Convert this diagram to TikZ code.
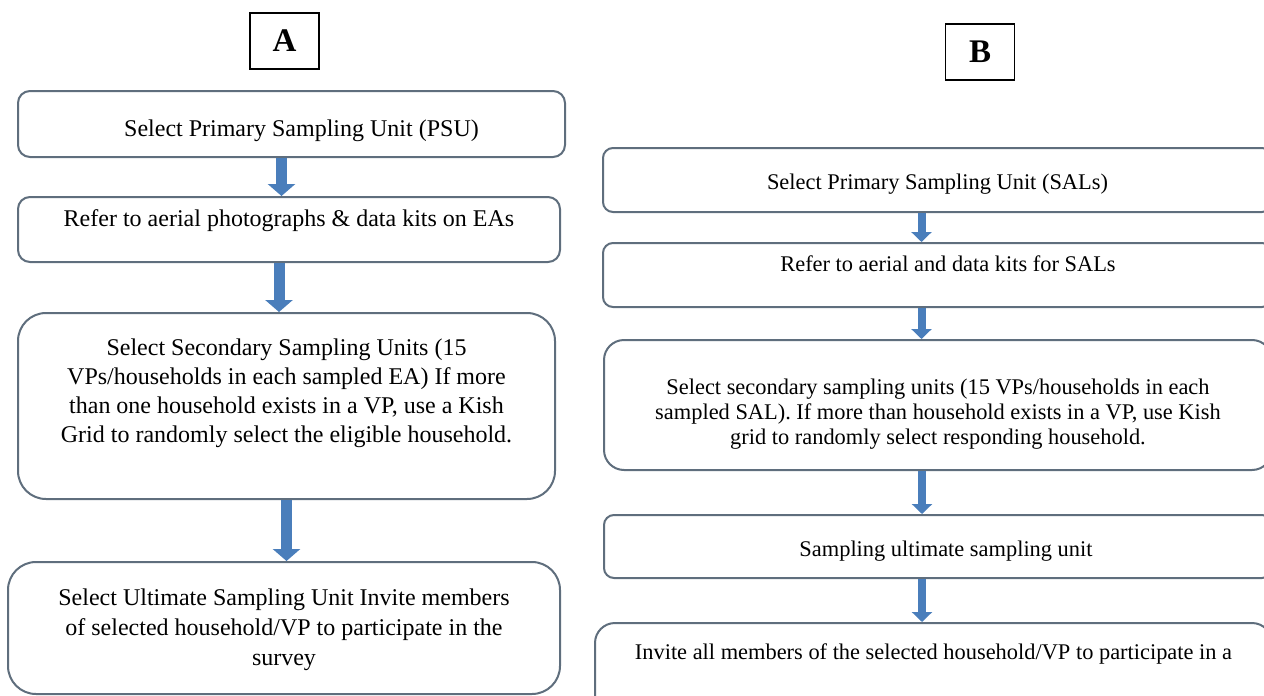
\documentclass[tikz,border=0pt]{standalone}
\usepackage{fontspec}
\setmainfont{Liberation Serif}
\usetikzlibrary{arrows.meta}
\definecolor{boxedge}{RGB}{95,110,125}
\definecolor{flowblue}{RGB}{74,126,187}
\begin{document}
\begin{tikzpicture}[x=0.5pt,y=-0.5pt,
  letterbox/.style={draw=black,line width=0.7pt,inner sep=0pt,minimum width=34.5pt,minimum height=28pt,font=\fontsize{16.5}{18}\selectfont\bfseries},
  abox/.style={draw=boxedge,line width=1pt,fill=white,inner sep=0pt,align=center,rounded corners=6pt,font=\fontsize{12}{14.5}\selectfont},
  bbox/.style={abox,rounded corners=5pt,font=\fontsize{11.2}{12.5}\selectfont},
  aarrow/.style={draw=flowblue,line width=5.5pt,-{Triangle[width=13.5pt,length=6pt]}},
  barrow/.style={draw=flowblue,line width=4pt,-{Triangle[width=10pt,length=5pt]}}]
\useasboundingbox (0,0) rectangle (1264,696);
\clip (0,0) rectangle (1264,696);
% column A
\node [letterbox] (labA) at (284.5,41) {A};
\node [abox,minimum width=273.5pt,minimum height=33pt] (a1) at (291.5,124) {\hspace*{10pt}\rule{0pt}{15pt}Select Primary Sampling Unit (PSU)};
\node [abox,minimum width=271pt,minimum height=32.5pt,text depth=11pt] (a2) at (289,229.5) {Refer to aerial photographs \& data kits on EAs};
\node [abox,rounded corners=14pt,minimum width=268.5pt,minimum height=93pt,text depth=15.6pt] (a3) at (286.5,406) {Select Secondary Sampling Units (15\\VPs/households in each sampled EA) If more\\than one household exists in a VP, use a Kish\\Grid to randomly select the eligible household.};
\node [abox,rounded corners=14pt,minimum width=276pt,minimum height=66pt,font=\fontsize{12}{15}\selectfont] (a4) at (284,628) {\rule{0pt}{10.5pt}Select Ultimate Sampling Unit Invite members\\of selected household/VP to participate in the\\survey};
% column B
\node [letterbox] (labB) at (980,52) {B};
\node [bbox,minimum width=334.5pt,minimum height=32pt] (b1) at (937.5,180) {\rule{0pt}{12pt}Select Primary Sampling Unit (SALs)};
\node [bbox,minimum width=334.5pt,minimum height=32pt,text depth=11.5pt] (b2) at (937.5,275) {\hspace*{10.5pt}Refer to aerial and data kits for SALs};
\node [bbox,rounded corners=10pt,minimum width=334pt,minimum height=65pt] (b3) at (938,405) {\rule{0pt}{16.5pt}Select secondary sampling units (15 VPs/households in each\\sampled SAL). If more than household exists in a VP, use Kish\\grid to randomly select responding household.};
\node [bbox,minimum width=334pt,minimum height=31.5pt] (b4) at (938,546.5) {\hspace*{8pt}\rule{0pt}{12pt}Sampling ultimate sampling unit};
\node [bbox,rounded corners=10pt,minimum width=338.5pt,minimum height=48.5pt,text depth=20pt] (b5) at (933.5,671.5) {Invite all members of the selected household/VP to participate in a};
% arrows
\draw [aarrow] ([xshift=-5pt]a1.south) -- ([xshift=-5pt]a1.south |- a2.north);
\draw [aarrow] ([xshift=-5pt]a2.south) -- ([xshift=-5pt]a2.south |- a3.north);
\draw [aarrow] (a3.south) -- (a3.south |- a4.north);
\draw [barrow] ([xshift=-8pt]b1.south) -- ([xshift=-8pt]b1.south |- b2.north);
\draw [barrow] ([xshift=-8pt]b2.south) -- ([xshift=-8pt]b2.south |- b3.north);
\draw [barrow] ([xshift=-8pt]b3.south) -- ([xshift=-8pt]b3.south |- b4.north);
\draw [barrow] ([xshift=-8pt]b4.south) -- ([xshift=-8pt]b4.south |- b5.north);
\end{tikzpicture}
\end{document}
